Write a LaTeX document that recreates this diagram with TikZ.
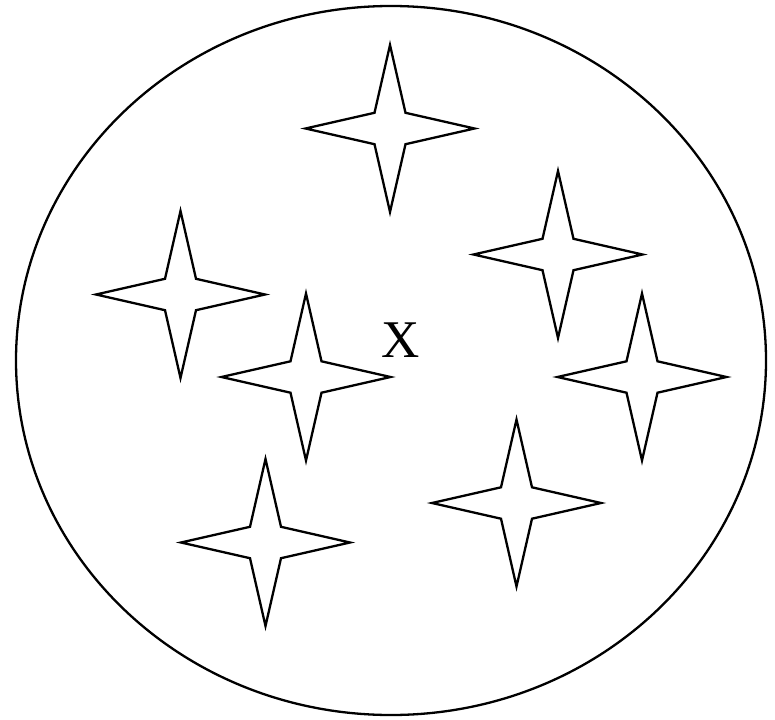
\documentclass[tikz,border=0pt]{standalone}
\usepackage{fontspec}
\setmainfont{Liberation Serif}
\begin{document}
\begin{tikzpicture}[x=1pt,y=-1pt,
  line/.style={draw=black,line width=2.3pt},
  sparkle/.pic={\draw[line] (0,-83.5) -- (15.5,-15.7) -- (84.5,0) -- (15.5,15.7) -- (0,83.5) -- (-15.5,15.7) -- (-84.5,0) -- (-15.5,-15.7) -- cycle;}]
\useasboundingbox (0,0) rectangle (775,719);
\draw[line] (391,360.5) ellipse [x radius=375, y radius=354.5];
\pic (s1) at (390,128.5) {sparkle};
\pic (s2) at (180.5,294.5) {sparkle};
\pic (s3) at (306,377) {sparkle};
\pic (s4) at (265.5,542.5) {sparkle};
\pic (s5) at (558,254.5) {sparkle};
\pic (s6) at (642,377) {sparkle};
\pic (s7) at (516.5,503) {sparkle};
\node[font=\fontsize{53}{53}\selectfont,inner sep=0pt] (x) at (400.5,340) {X};
\end{tikzpicture}
\end{document}
